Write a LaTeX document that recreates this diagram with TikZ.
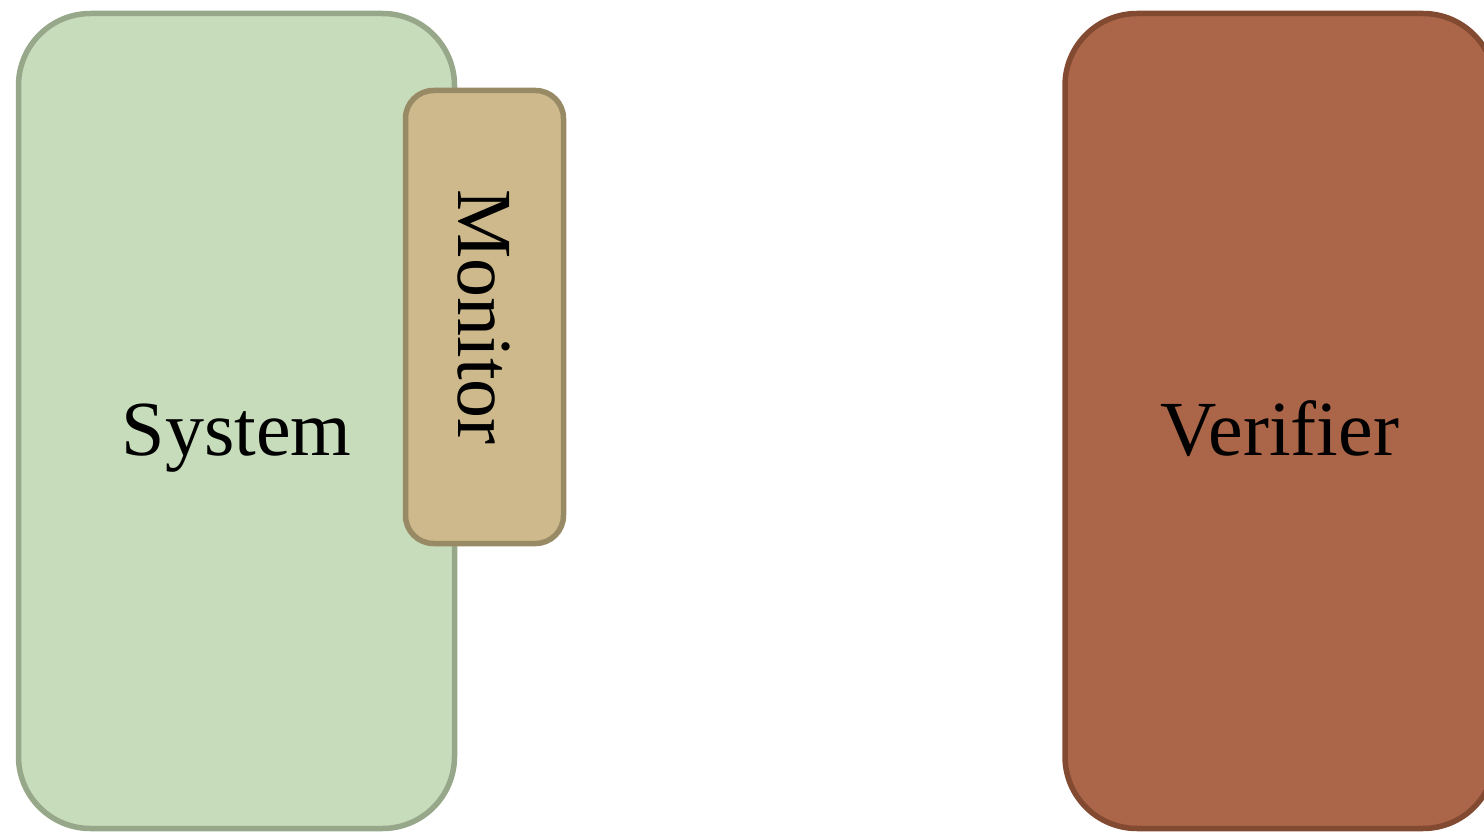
\documentclass[tikz,border=0pt]{standalone}
\usepackage{fontspec}
\setmainfont{Liberation Serif}
\definecolor{sysfill}{HTML}{C6DCBB}
\definecolor{sysline}{HTML}{97A88A}
\definecolor{monfill}{HTML}{CDB98B}
\definecolor{monline}{HTML}{998A66}
\definecolor{verfill}{HTML}{AB6548}
\definecolor{verline}{HTML}{834A32}
\begin{document}
\begin{tikzpicture}[x=1pt,y=1pt,
  label font/.style={font=\fontsize{78}{90}\selectfont, text height=68pt, text depth=0pt},
  block/.style={draw, rectangle, line width=5.5pt, inner sep=0pt, label font},
  bigblock/.style={block, minimum width=436pt, minimum height=815pt, rounded corners=72pt},
]
\useasboundingbox (0,0) rectangle (1484,-834);
% main components
\node[bigblock, fill=sysfill, draw=sysline] (system) at (236.5,-421) {System};
\node[block, fill=monfill, draw=monline, minimum width=158pt, minimum height=453pt,
      rounded corners=28pt] (monitor) at (484.5,-317) {};
\node[rotate=-90, label font, inner sep=0pt] (monitortext) at ([xshift=8pt]monitor.center) {Monitor};
\node[bigblock, minimum width=430pt, fill=verfill, draw=verline] (verifier) at (1280,-421) {Verifier};
\end{tikzpicture}
\end{document}
